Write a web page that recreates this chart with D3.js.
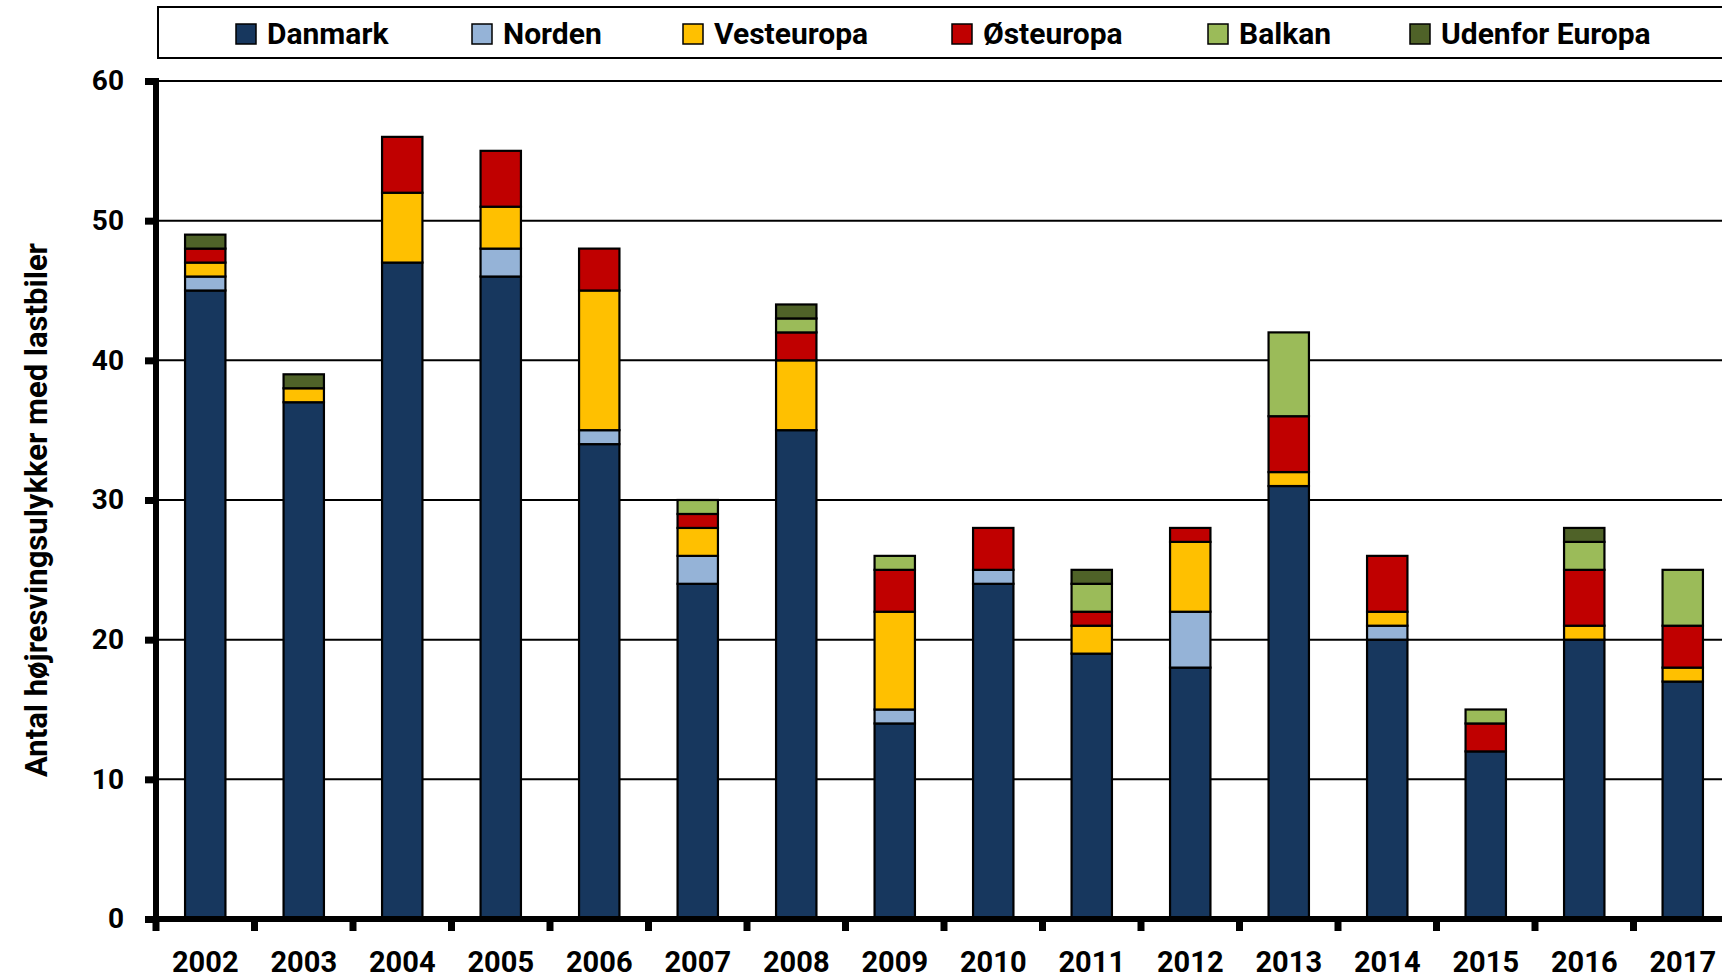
<!DOCTYPE html>
<html>
<head>
<meta charset="utf-8">
<script src="https://cdn.jsdelivr.net/npm/d3@7"></script>
<style>
    body { margin: 0; background: #fff; }
    text { font-family: Roboto, "Noto Sans", sans-serif; font-weight: bold; fill: #000; }
</style>
</head>
<body>
<svg id="drawing_region"></svg>
<script>
const years      = ['2002','2003','2004','2005','2006','2007','2008','2009','2010','2011','2012','2013','2014','2015','2016','2017'];
const danmark    = [45, 37, 47, 46, 34, 24, 35, 14, 24, 19, 18, 31, 20, 12, 20, 17];
const norden     = [ 1,  0,  0,  2,  1,  2,  0,  1,  1,  0,  4,  0,  1,  0,  0,  0];
const vesteuropa = [ 1,  1,  5,  3, 10,  2,  5,  7,  0,  2,  5,  1,  1,  0,  1,  1];
const osteuropa  = [ 1,  0,  4,  4,  3,  1,  2,  3,  3,  1,  1,  4,  4,  2,  4,  3];
const balkan     = [ 0,  0,  0,  0,  0,  1,  1,  1,  0,  2,  0,  6,  0,  1,  2,  4];
const udenfor    = [ 1,  1,  0,  0,  0,  0,  1,  0,  0,  1,  0,  0,  0,  0,  1,  0];
const seriesNames = ['Danmark','Norden','Vesteuropa','Østeuropa','Balkan','Udenfor Europa'];
const seriesColors = ['#17375e','#95b3d7','#ffc000','#c00000','#9bbb59','#4f6228'];
const yTicks = [0, 10, 20, 30, 40, 50, 60];
const yTitle = 'Antal højresvingsulykker med lastbiler';

var config = {
    width: 1722,
    height: 979,
    plot: {left: 156, top: 81, bottom: 919, step: 98.5}
};

// build one row per year for d3.stack
var table = years.map((y, i) => ({
    year: y,
    'Danmark': danmark[i],
    'Norden': norden[i],
    'Vesteuropa': vesteuropa[i],
    'Østeuropa': osteuropa[i],
    'Balkan': balkan[i],
    'Udenfor Europa': udenfor[i]
}));

var svg = d3.select('#drawing_region')
    .attr('width', config.width)
    .attr('height', config.height);

svg.append('rect')
    .attr('width', config.width)
    .attr('height', config.height)
    .attr('fill', '#fff');

var p = config.plot;

var xscale = d3.scaleBand()
    .domain(years)
    .range([p.left, p.left + p.step * years.length])
    .paddingInner(0.59)
    .paddingOuter(0.295);

var yscale = d3.scaleLinear()
    .domain([0, 60])
    .range([p.bottom, p.top]);

var color = d3.scaleOrdinal()
    .domain(seriesNames)
    .range(seriesColors);

// gridlines
svg.append('g')
    .selectAll('line')
    .data(yTicks.filter(d => d > 0))
    .join('line')
    .attr('x1', p.left)
    .attr('x2', config.width)
    .attr('y1', d => yscale(d))
    .attr('y2', d => yscale(d))
    .attr('stroke', '#000')
    .attr('stroke-width', 2);

// stacked bars
var stacked = d3.stack().keys(seriesNames)(table);

svg.append('g')
    .selectAll('g')
    .data(stacked)
    .join('g')
    .attr('fill', d => color(d.key))
    .selectAll('rect')
    .data(d => d.filter(s => s[1] - s[0] > 0))
    .join('rect')
    .attr('x', d => xscale(d.data.year))
    .attr('y', d => yscale(d[1]))
    .attr('width', xscale.bandwidth())
    .attr('height', d => yscale(d[0]) - yscale(d[1]))
    .attr('stroke', '#000')
    .attr('stroke-width', 2.2);

// y axis
var yaxis = d3.axisLeft(yscale)
    .tickValues(yTicks)
    .tickSize(11)
    .tickPadding(21)
    .tickSizeOuter(0);

var yaxis_group = svg.append('g')
    .attr('transform', `translate(${p.left}, 0)`)
    .call(yaxis);

yaxis_group.select('.domain')
    .attr('stroke', '#000')
    .attr('stroke-width', 6)
    .attr('d', `M0,${p.top - 3}V${p.bottom + 3}`);

yaxis_group.selectAll('.tick line')
    .attr('stroke', '#000')
    .attr('stroke-width', 7);

yaxis_group.selectAll('.tick text')
    .attr('font-size', '28px')
    .attr('font-family', 'Roboto, sans-serif')
    .attr('font-weight', 'bold')
    .attr('fill', '#000');

// x axis
var xaxis_group = svg.append('g')
    .attr('transform', `translate(0, ${p.bottom})`);

xaxis_group.append('line')
    .attr('x1', p.left - 10)
    .attr('x2', config.width)
    .attr('stroke', '#000')
    .attr('stroke-width', 6);

// tick marks sit on the category boundaries
xaxis_group.selectAll('.xtick')
    .data(years)
    .join('line')
    .attr('class', 'xtick')
    .attr('x1', d => xscale(d) - xscale.step() * xscale.paddingOuter())
    .attr('x2', d => xscale(d) - xscale.step() * xscale.paddingOuter())
    .attr('y1', 0)
    .attr('y2', 12)
    .attr('stroke', '#000')
    .attr('stroke-width', 7);

xaxis_group.selectAll('.xlabel')
    .data(years)
    .join('text')
    .attr('class', 'xlabel')
    .attr('x', d => xscale(d) + xscale.bandwidth() / 2)
    .attr('y', 53)
    .attr('text-anchor', 'middle')
    .attr('font-size', '29px')
    .text(d => d);

// y title
svg.append('text')
    .attr('transform', `translate(47, 510) rotate(-90)`)
    .attr('text-anchor', 'middle')
    .attr('font-size', '31px')
    .text(yTitle);

// legend
var legend = svg.append('g');

legend.append('rect')
    .attr('x', 158)
    .attr('y', 7)
    .attr('width', 1600)
    .attr('height', 51)
    .attr('fill', '#fff')
    .attr('stroke', '#000')
    .attr('stroke-width', 2);

const legendX = [236, 472, 683, 952, 1208, 1410];

var items = legend.selectAll('.item')
    .data(seriesNames)
    .join('g')
    .attr('class', 'item')
    .attr('transform', (d, i) => `translate(${legendX[i]}, 24)`);

items.append('rect')
    .attr('width', 20)
    .attr('height', 20)
    .attr('fill', d => color(d))
    .attr('stroke', '#000')
    .attr('stroke-width', 1.5);

items.append('text')
    .attr('x', 31)
    .attr('y', 20)
    .attr('font-size', '30px')
    .text(d => d);
</script>
</body>
</html>
